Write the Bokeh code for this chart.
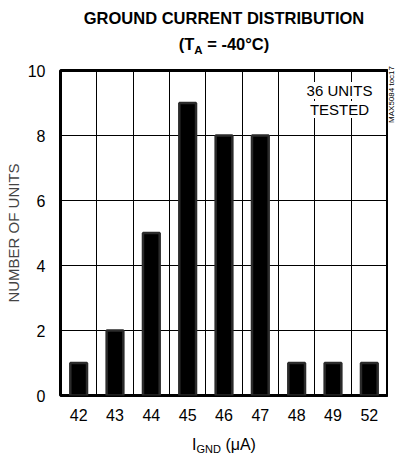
from bokeh.plotting import figure
from bokeh.models import FixedTicker, Label, Range1d, Div, Title
from bokeh.layouts import column, row
from bokeh.embed import file_html
from bokeh.resources import INLINE

# Data
categories = ["42", "43", "44", "45", "46", "47", "48", "49", "52"]
counts = [1, 2, 5, 9, 8, 8, 1, 1, 1]
y_ticks = [0, 2, 4, 6, 8, 10]

FONT = "Liberation Sans"

TOP_H = 58
BOT_H = 29
FIG_H = 459 - TOP_H - BOT_H   # 372

p = figure(width=388, height=FIG_H, output_backend="svg", toolbar_location=None,
           x_range=Range1d(0, len(categories)), y_range=Range1d(0, 10),
           min_border_left=60, min_border_right=1, min_border_top=12, min_border_bottom=35)

xs = [i + 0.5 for i in range(len(categories))]
p.vbar(x=xs, top=counts, width=0.46, bottom=0, fill_color="black",
       line_color="#2b2b2b", line_width=2.5)

p.outline_line_color = "black"
p.outline_line_width = 3
p.background_fill_color = "white"
p.border_fill_color = "white"

p.xaxis.ticker = FixedTicker(ticks=xs)
p.xaxis.major_label_overrides = {x: c for x, c in zip(xs, categories)}
p.yaxis.ticker = FixedTicker(ticks=y_ticks)
for ax in (p.xaxis, p.yaxis):
    ax.axis_line_color = None
    ax.major_tick_line_color = None
    ax.minor_tick_line_color = None
    ax.major_tick_out = 0
    ax.major_tick_in = 0
    ax.minor_tick_out = 0
    ax.major_label_text_font = FONT
    ax.major_label_text_font_size = "16px"
    ax.major_label_text_color = "black"
p.xaxis.major_label_standoff = 13
p.yaxis.major_label_standoff = 15

p.add_layout(Title(text="NUMBER OF UNITS", align="center", offset=25,
                   text_font=FONT, text_font_size="15px", text_font_style="normal",
                   standoff=5), "left")

p.xgrid.ticker = FixedTicker(ticks=list(range(1, len(categories))))
p.ygrid.ticker = FixedTicker(ticks=[2, 4, 6, 8])
for g in (p.xgrid, p.ygrid):
    g.grid_line_color = "black"
    g.grid_line_width = 1

# Annotation inside the frame
for txt, y in (("36 UNITS", 305), ("TESTED", 286)):
    p.add_layout(Label(x=279, y=y, x_units="screen", y_units="screen", text=txt,
                       text_font=FONT, text_font_size="15px", text_align="center",
                       text_baseline="middle", text_color="black",
                       background_fill_color="white"))

title_div = Div(
    text=("<div style=\"box-sizing:border-box;font-family:'Liberation Sans';font-weight:bold;"
          "font-size:16.5px;color:black;text-align:center;line-height:26px;"
          "padding:5px 0 0 52px;width:396px;white-space:nowrap\">GROUND CURRENT DISTRIBUTION<br>"
          "(T<span style=\"font-size:11.5px;position:relative;top:4px\">A</span> = -40°C)</div>"),
    width=396, height=TOP_H, margin=0)

toc_div = Div(
    text=("<div style=\"font-family:'Liberation Sans';font-size:8px;color:black;"
          "writing-mode:vertical-rl;transform:rotate(180deg);white-space:nowrap;"
          "margin-top:8px;line-height:8px;width:8px\">MAX5084 toc17</div>"),
    width=8, height=FIG_H, margin=0)

xlabel_div = Div(
    text=("<div style=\"box-sizing:border-box;font-family:'Liberation Sans';font-size:16px;"
          "color:black;text-align:center;line-height:20px;padding:5px 0 0 52px;width:396px;"
          "white-space:nowrap\">I<span style=\"font-size:11px;position:relative;top:3px\">GND</span>"
          " (μA)</div>"),
    width=396, height=BOT_H, margin=0)

layout = column(title_div, row(p, toc_div, spacing=0), xlabel_div, spacing=0)

open("out.html", "w").write(file_html(layout, INLINE))
